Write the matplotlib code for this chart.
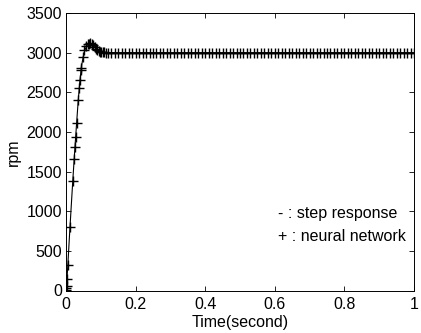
import matplotlib
matplotlib.use("Agg")
import matplotlib.pyplot as plt

plt.rcParams['font.family'] = ['Liberation Sans', 'DejaVu Sans']

# Step response (solid line)
t_step = [0.0, 0.002, 0.005, 0.01, 0.015, 0.02, 0.025, 0.03, 0.035, 0.04,
          0.045, 0.05, 0.055, 0.06, 0.065, 0.07, 0.075, 0.08, 0.085, 0.09,
          0.095, 0.1, 0.11, 0.12, 0.15, 0.2, 0.4, 0.6, 0.8, 1.0]
rpm_step = [0, 90, 300, 690, 1060, 1420, 1760, 2080, 2390, 2650,
            2840, 2960, 3040, 3090, 3112, 3118, 3110, 3090, 3065, 3042,
            3025, 3012, 3004, 3001, 3000, 3000, 3000, 3000, 3000, 3000]

# Neural network output (+ markers)
t_nn = [0.0, 0.0005, 0.001, 0.0015, 0.003, 0.006, 0.0115, 0.02, 0.024, 0.027,
        0.029, 0.031, 0.035, 0.038, 0.040, 0.042, 0.044, 0.048, 0.053, 0.058,
        0.062, 0.066, 0.070, 0.074, 0.078, 0.082, 0.086, 0.090, 0.094, 0.098,
        0.102, 0.106, 0.110, 0.114, 0.12,
        0.13, 0.14, 0.15, 0.16, 0.17, 0.18, 0.19, 0.20, 0.21, 0.22,
        0.23, 0.24, 0.25, 0.26, 0.27, 0.28, 0.29, 0.30, 0.31, 0.32,
        0.33, 0.34, 0.35, 0.36, 0.37, 0.38, 0.39, 0.40, 0.41, 0.42,
        0.43, 0.44, 0.45, 0.46, 0.47, 0.48, 0.49, 0.50, 0.51, 0.52,
        0.53, 0.54, 0.55, 0.56, 0.57, 0.58, 0.59, 0.60, 0.61, 0.62,
        0.63, 0.64, 0.65, 0.66, 0.67, 0.68, 0.69, 0.70, 0.71, 0.72,
        0.73, 0.74, 0.75, 0.76, 0.77, 0.78, 0.79, 0.80, 0.81, 0.82,
        0.83, 0.84, 0.85, 0.86, 0.87, 0.88, 0.89, 0.90, 0.91, 0.92,
        0.93, 0.94, 0.95, 0.96, 0.97, 0.98, 0.99, 1.00]
rpm_nn = [0, 9, 30, 59, 143, 323, 805, 1380, 1657, 1811,
          1937, 2118, 2399, 2558, 2659, 2780, 2800, 2943, 3036, 3080,
          3105, 3115, 3118, 3112, 3095, 3070, 3050, 3034, 3022, 3013,
          3007, 3004, 3002, 3001, 3000,
          3000, 3000, 3000, 3000, 3000, 3000, 3000, 3000, 3000, 3000,
          3000, 3000, 3000, 3000, 3000, 3000, 3000, 3000, 3000, 3000,
          3000, 3000, 3000, 3000, 3000, 3000, 3000, 3000, 3000, 3000,
          3000, 3000, 3000, 3000, 3000, 3000, 3000, 3000, 3000, 3000,
          3000, 3000, 3000, 3000, 3000, 3000, 3000, 3000, 3000, 3000,
          3000, 3000, 3000, 3000, 3000, 3000, 3000, 3000, 3000, 3000,
          3000, 3000, 3000, 3000, 3000, 3000, 3000, 3000, 3000, 3000,
          3000, 3000, 3000, 3000, 3000, 3000, 3000, 3000, 3000, 3000,
          3000, 3000, 3000, 3000, 3000, 3000, 3000, 3000]

x_ticks = [0, 0.2, 0.4, 0.6, 0.8, 1]
x_ticklabels = ['0', '0.2', '0.4', '0.6', '0.8', '1']
y_ticks = [0, 500, 1000, 1500, 2000, 2500, 3000, 3500]

fig = plt.figure(figsize=(4.21, 3.33), dpi=100)
ax = fig.add_axes([66/421, 1-290.5/333, (414-66)/421, (290.5-13)/333])

ax.plot(t_step, rpm_step, '-', color='black', lw=0.8)
ax.plot(t_nn, rpm_nn, '+', color='black', ms=7, mew=1.0, linestyle='none')

ax.set_xlim(0, 1)
ax.set_ylim(0, 3500)
ax.set_xticks(x_ticks)
ax.set_xticklabels(x_ticklabels)
ax.set_yticks(y_ticks)
ax.tick_params(direction='in', top=True, right=True, length=3.5, width=0.6,
               labelsize=11.5)
ax.tick_params(axis='x', pad=5)
ax.tick_params(axis='y', pad=3)
for s in ax.spines.values():
    s.set_linewidth(0.7)

ax.set_xlabel('Time(second)', fontsize=11.5, labelpad=1.5)
ax.set_ylabel('rpm', fontsize=11.5, labelpad=4)

ax.text(0.609, 977, '- : step response', fontsize=11.5, va='center', ha='left')
ax.text(0.609, 675, '+ : neural network', fontsize=11.5, va='center', ha='left')

fig.savefig('out.png', dpi=100)
